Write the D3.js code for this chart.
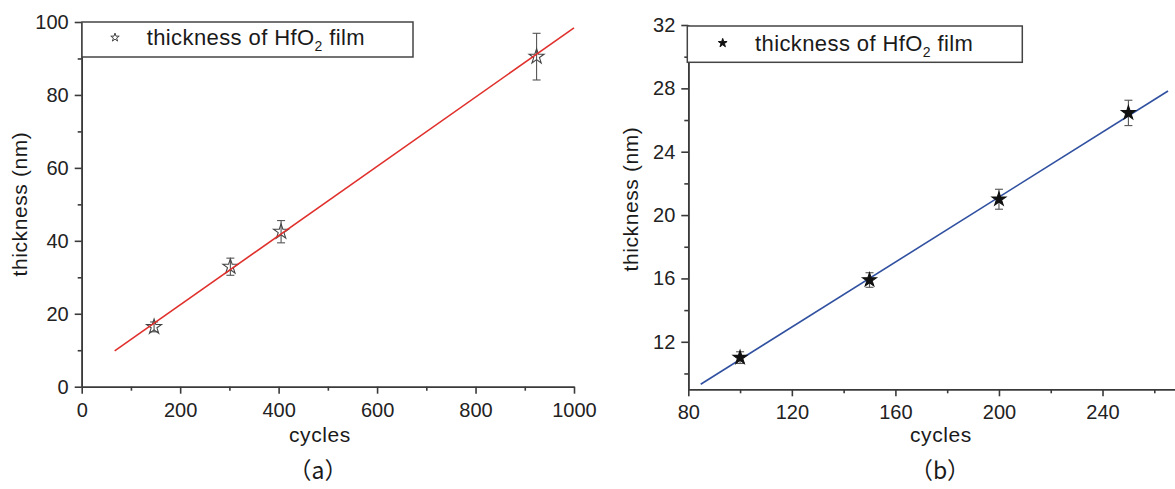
<!DOCTYPE html>
<meta charset="utf-8">
<head>
    <script type="text/javascript" src="https://cdn.jsdelivr.net/npm/d3@7/dist/d3.min.js"></script>
    <style>
        body { margin: 0; background: #fff; }
        svg text { font-family: Arial, "Liberation Sans", Helvetica, sans-serif; fill: #1a1a1a; }
        .axis path, .axis line { stroke: #3a3a3a; stroke-width: 1.6; }
        .axis text { font-size: 20px; fill: #222; }
    </style>
    <title>HfO2 thickness</title>
</head>
<body>
<div id="chart"></div>
<script>
    // panel (a) data
    var cyclesA = [147, 302, 405, 924];
    var thickA = [16.4, 32.9, 42.5, 90.5];
    var errA = [1.35, 2.35, 3.05, 6.4];
    var fitAx = [67, 1000];
    var fitAy = [9.8, 98.4];
    var xTicksA = [0, 200, 400, 600, 800, 1000];
    var xMinorA = [100, 300, 500, 700, 900];
    var yTicksA = [0, 20, 40, 60, 80, 100];
    var yMinorA = [10, 30, 50, 70, 90];

    // panel (b) data
    var cyclesB = [100, 150, 200, 250];
    var thickB = [11.0, 15.9, 21.0, 26.45];
    var errB = [0.37, 0.46, 0.63, 0.8];
    var fitBx = [84.8, 265.3];
    var fitBy = [9.32, 27.83];
    var xTicksB = [80, 120, 160, 200, 240];
    var xMinorB = [100, 140, 180, 220, 260];
    var yTicksB = [12, 16, 20, 24, 28, 32];
    var yMinorB = [10, 14, 18, 22, 26, 30];

    var legendLabel = "thickness of HfO";

    var width = 1175, height = 489;

    var svg = d3.select("#chart").append("svg")
        .attr("width", width)
        .attr("height", height);

    function drawPanel(p) {
        var g = svg.append("g");
        var x = d3.scaleLinear().domain(p.xDomain).range(p.xRange);
        var y = d3.scaleLinear().domain(p.yDomain).range(p.yRange);
        var x0 = p.xRange[0], y0 = p.yRange[0];

        // minor ticks first
        g.append("g").attr("class", "axis").attr("transform", "translate(0," + y0 + ")")
            .call(d3.axisBottom(x).tickValues(p.xMinor).tickSize(4).tickSizeOuter(0).tickFormat(""));
        g.append("g").attr("class", "axis").attr("transform", "translate(" + x0 + ",0)")
            .call(d3.axisLeft(y).tickValues(p.yMinor).tickSize(4).tickSizeOuter(0).tickFormat(""));

        g.append("g").attr("class", "axis").attr("transform", "translate(0," + y0 + ")")
            .call(d3.axisBottom(x).tickValues(p.xTicks).tickSize(7).tickSizeOuter(0).tickPadding(9).tickFormat(d3.format("d")));
        g.append("g").attr("class", "axis").attr("transform", "translate(" + x0 + ",0)")
            .call(d3.axisLeft(y).tickValues(p.yTicks).tickSize(7).tickSizeOuter(0).tickPadding(6).tickFormat(d3.format("d")));
        g.selectAll(".axis").attr("font-family", null);

        var pts = p.xs.map(function(v, i) { return {x: v, y: p.ys[i], e: p.errs[i]}; });
        var fit = p.fitX.map(function(v, i) { return [v, p.fitY[i]]; });
        var line = d3.line().x(function(d) { return x(d[0]); }).y(function(d) { return y(d[1]); });

        var fitPath = function() {
            g.append("path").datum(fit)
                .attr("d", line)
                .attr("fill", "none")
                .attr("stroke", p.lineColor)
                .attr("stroke-width", 1.6);
        };
        if (!p.lineOnTop) fitPath();

        // error bars
        var eb = g.append("g").attr("stroke", "#555").attr("stroke-width", 1.1);
        pts.forEach(function(d) {
            var cx = x(d.x), t = y(d.y + d.e), b = y(d.y - d.e);
            eb.append("line").attr("x1", cx).attr("x2", cx).attr("y1", t).attr("y2", b);
            eb.append("line").attr("x1", cx - 4).attr("x2", cx + 4).attr("y1", t).attr("y2", t);
            eb.append("line").attr("x1", cx - 4).attr("x2", cx + 4).attr("y1", b).attr("y2", b);
        });

        var star = d3.symbol().type(d3.symbolStar);
        g.selectAll(".pt").data(pts).enter().append("path")
            .attr("class", "pt")
            .attr("transform", function(d) { return "translate(" + x(d.x) + "," + y(d.y) + ")"; })
            .attr("d", star.size(p.starSize))
            .attr("fill", p.starFill)
            .attr("stroke", p.starStroke)
            .attr("stroke-width", 1.1);

        if (p.lineOnTop) fitPath();

        // legend
        var lg = g.append("g");
        lg.append("rect")
            .attr("x", p.legend[0]).attr("y", p.legend[1])
            .attr("width", p.legend[2]).attr("height", p.legend[3])
            .attr("fill", "#fff").attr("stroke", "#444").attr("stroke-width", 1.5);
        lg.append("path")
            .attr("transform", "translate(" + p.legendStar[0] + "," + p.legendStar[1] + ")")
            .attr("d", d3.symbol().type(d3.symbolStar).size(p.legendStarSize))
            .attr("fill", p.starFill).attr("stroke", p.starStroke).attr("stroke-width", 1);
        var lt = lg.append("text")
            .attr("x", p.legendText[0]).attr("y", p.legendText[1])
            .style("font-size", "22px").style("letter-spacing", "0.4px");
        lt.append("tspan").text(legendLabel);
        lt.append("tspan").attr("dy", 6).style("font-size", "14px").text("2");
        lt.append("tspan").attr("dy", -6).text(" film");

        // titles
        g.append("text")
            .attr("transform", "translate(" + p.yTitle[0] + "," + p.yTitle[1] + ") rotate(-90)")
            .attr("text-anchor", "middle")
            .style("font-size", "21px").style("letter-spacing", "0.6px")
            .text("thickness (nm)");
        g.append("text")
            .attr("x", p.xTitle[0]).attr("y", p.xTitle[1])
            .attr("text-anchor", "middle")
            .style("font-size", "21px").style("letter-spacing", "0.6px")
            .text("cycles");
        g.append("text")
            .attr("x", p.caption[0]).attr("y", p.caption[1])
            .attr("text-anchor", "middle")
            .style("font-size", "23px")
            .style("font-family", "'Noto Sans CJK SC', Arial, sans-serif")
            .text(p.captionText);
    }

    drawPanel({
        xDomain: [0, 1000], xRange: [81.7, 574],
        yDomain: [0, 100], yRange: [386.7, 22],
        xTicks: xTicksA, xMinor: xMinorA, yTicks: yTicksA, yMinor: yMinorA,
        xs: cyclesA, ys: thickA, errs: errA, fitX: fitAx, fitY: fitAy,
        lineColor: "#e0302c", lineOnTop: true,
        starSize: 70, starFill: "none", starStroke: "#444",
        legend: [82, 22, 331, 35], legendStar: [115, 37.5], legendStarSize: 22,
        legendText: [146.7, 45],
        yTitle: [27, 204], xTitle: [320, 442], caption: [318, 479], captionText: "（a）"
    });

    drawPanel({
        xDomain: [80, 268], xRange: [688.3, 1175],
        yDomain: [9, 32], yRange: [389.3, 25],
        xTicks: xTicksB, xMinor: xMinorB, yTicks: yTicksB, yMinor: yMinorB,
        xs: cyclesB, ys: thickB, errs: errB, fitX: fitBx, fitY: fitBy,
        lineColor: "#3050a0", lineOnTop: false,
        starSize: 60, starFill: "#111", starStroke: "#111",
        legend: [687.3, 26, 335, 36.3], legendStar: [722.7, 43], legendStarSize: 24,
        legendText: [755, 50.5],
        yTitle: [638, 199], xTitle: [941, 442], caption: [940, 479], captionText: "（b）"
    });
</script>
</body>
</html>
